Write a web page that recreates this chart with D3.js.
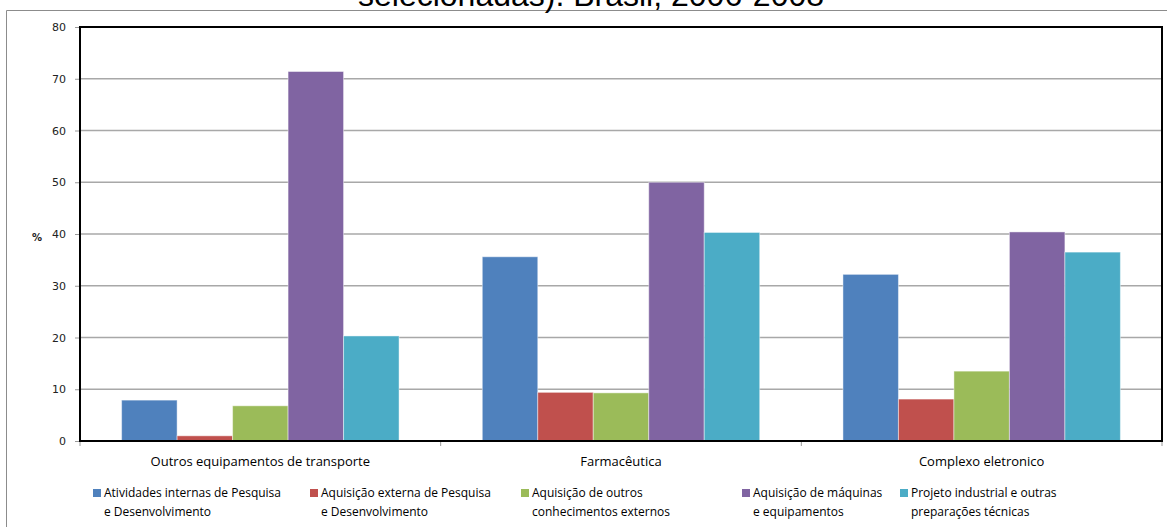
<!DOCTYPE html>
<html>
<head>
<meta charset="utf-8">
<script src="https://cdn.jsdelivr.net/npm/d3@7"></script>
<style>
  html, body { margin: 0; padding: 0; background: #fff; }
  svg { display: block; }
</style>
</head>
<body>
<svg id="chart" width="1167" height="527"></svg>
<script>
const titleText = "selecionadas). Brasil, 2006-2008";
const categories = ["Outros equipamentos de transporte", "Farmacêutica", "Complexo eletronico"];
const seriesNames = [
  ["Atividades internas de Pesquisa", "e Desenvolvimento"],
  ["Aquisição externa de Pesquisa", "e Desenvolvimento"],
  ["Aquisição de outros", "conhecimentos externos"],
  ["Aquisição de máquinas", "e equipamentos"],
  ["Projeto industrial e outras", "preparações técnicas"]
];
const seriesColors = ["#4F81BD", "#C0504D", "#9BBB59", "#8064A2", "#4BACC6"];
const internas = [7.9, 35.6, 32.2];
const externas = [1.0, 9.4, 8.1];
const outrosConhec = [6.8, 9.3, 13.5];
const maquinas = [71.4, 50.0, 40.4];
const projeto = [20.3, 40.3, 36.5];
const seriesValues = [internas, externas, outrosConhec, maquinas, projeto];
const yTicks = [0, 10, 20, 30, 40, 50, 60, 70, 80];
const yLabel = "%";

const svg = d3.select("#chart");
const plot = { left: 80, right: 1162, top: 27, bottom: 441 };

// outer chart border
svg.append("line").attr("x1", 6.5).attr("x2", 1167).attr("y1", 10.5).attr("y2", 10.5)
  .attr("stroke", "#8c8c8c").attr("stroke-width", 1);
svg.append("line").attr("x1", 6.5).attr("x2", 6.5).attr("y1", 10.5).attr("y2", 527)
  .attr("stroke", "#8c8c8c").attr("stroke-width", 1);

// title (clipped at the top edge like the reference)
svg.append("text").attr("x", 591).attr("y", 6).attr("text-anchor", "middle")
  .attr("font-family", "Liberation Sans, Arial, sans-serif").attr("font-size", 32)
  .attr("fill", "#000").text(titleText);

const y = d3.scaleLinear().domain([0, 80]).range([plot.bottom, plot.top]);
const x0 = d3.scaleBand().domain(categories).range([plot.left, plot.right]).padding(0);
const x1 = d3.scaleBand().domain(d3.range(seriesValues.length)).range([0, x0.bandwidth()])
  .paddingInner(0).paddingOuter(0.75);

// gridlines
svg.append("g").selectAll("line").data(yTicks.filter(d => d > 0 && d < 80)).join("line")
  .attr("x1", plot.left).attr("x2", plot.right)
  .attr("y1", d => y(d)).attr("y2", d => y(d))
  .attr("stroke", "#a8a8a8").attr("stroke-width", 1.5);

// bars
const groups = svg.append("g").selectAll("g").data(categories).join("g")
  .attr("transform", d => `translate(${x0(d)},0)`);
groups.selectAll("rect")
  .data((c, ci) => seriesValues.map((vals, si) => ({ si, v: vals[ci] })))
  .join("rect")
  .attr("x", d => x1(d.si))
  .attr("width", x1.bandwidth())
  .attr("y", d => y(d.v))
  .attr("height", d => y(0) - y(d.v))
  .attr("fill", d => seriesColors[d.si])
  .attr("stroke", "rgba(255,255,255,0.45)")
  .attr("stroke-width", 1);

// y axis
const yAxis = d3.axisLeft(y).tickValues(yTicks).tickSize(5).tickPadding(9);
const yg = svg.append("g").attr("transform", `translate(${plot.left},0)`).call(yAxis);
yg.select(".domain").remove();
yg.selectAll(".tick line").attr("stroke", "#999");
yg.selectAll(".tick text").attr("font-family", "DejaVu Sans, Verdana, sans-serif")
  .attr("font-size", 11).attr("fill", "#222");

// x axis ticks at category boundaries
const xb = categories.map(c => x0(c)).concat([plot.right]);
svg.append("g").selectAll("line").data(xb).join("line")
  .attr("x1", d => d).attr("x2", d => d)
  .attr("y1", plot.bottom).attr("y2", plot.bottom + 5)
  .attr("stroke", "#999");
svg.append("g").selectAll("text").data(categories).join("text")
  .attr("x", d => x0(d) + x0.bandwidth() / 2).attr("y", 466)
  .attr("text-anchor", "middle")
  .attr("font-family", "Open Sans, sans-serif").attr("font-size", 13)
  .attr("fill", "#000").text(d => d);

// plot frame
svg.append("rect").attr("x", plot.left).attr("y", plot.top)
  .attr("width", plot.right - plot.left).attr("height", plot.bottom - plot.top)
  .attr("fill", "none").attr("stroke", "#000").attr("stroke-width", 2);

// y label
svg.append("text").attr("x", 37).attr("y", 241).attr("text-anchor", "middle")
  .attr("font-family", "DejaVu Sans, Verdana, sans-serif").attr("font-size", 10)
  .attr("font-weight", "bold").attr("fill", "#222").text(yLabel);

// legend
const legendX = [93, 310, 521, 742, 900];
const lg = svg.append("g").selectAll("g").data(seriesNames).join("g")
  .attr("transform", (d, i) => `translate(${legendX[i]},0)`);
lg.append("rect").attr("x", 0).attr("y", 489).attr("width", 8).attr("height", 8)
  .attr("fill", (d, i) => seriesColors[i]);
lg.append("text").attr("x", 11).attr("y", 497)
  .attr("font-family", "Open Sans, sans-serif").attr("font-size", 12).attr("fill", "#000")
  .text(d => d[0]);
lg.append("text").attr("x", 11).attr("y", 515.5)
  .attr("font-family", "Open Sans, sans-serif").attr("font-size", 12).attr("fill", "#000")
  .text(d => d[1]);
</script>
</body>
</html>
